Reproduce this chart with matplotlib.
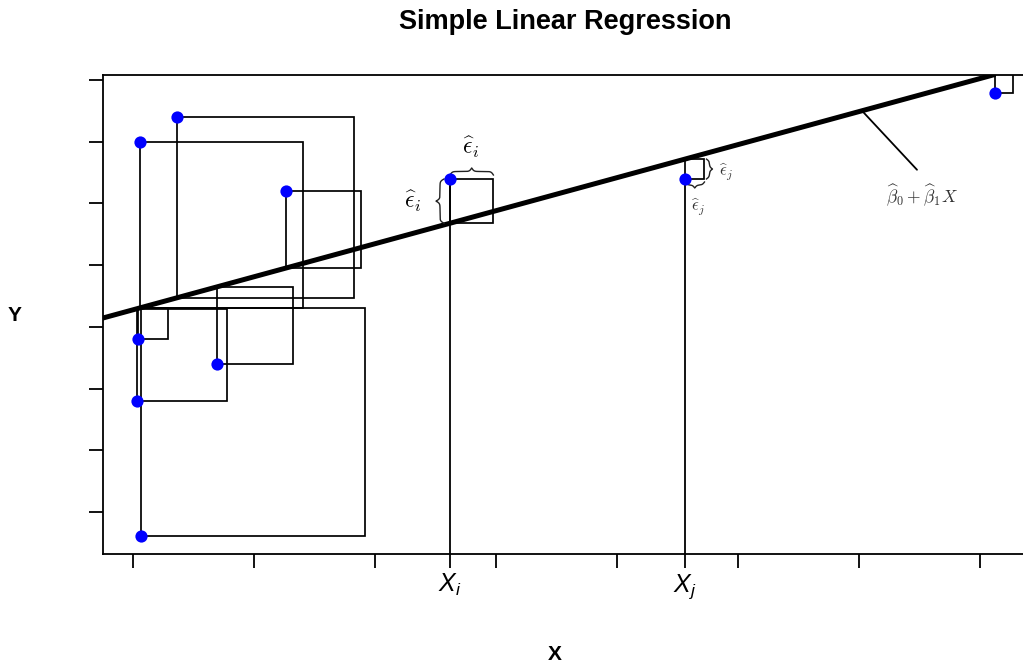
import numpy as np
import matplotlib
matplotlib.use('Agg')
import matplotlib.pyplot as plt
from matplotlib.patches import Rectangle
from matplotlib.transforms import IdentityTransform

# ---- data ----
x_pts = [1.066, 1.033, 1.041, 1.058, 1.364, 1.694, 2.264, 3.620, 5.562, 8.124]
y_pts = [0.611, 2.799, 3.803, 6.996, 7.401, 3.398, 6.202, 6.396, 6.396, 7.790]
b0, b1 = 3.741, 0.5353          # fitted line  y = b0 + b1 x
i_idx, j_idx = 7, 8              # points labelled X_i and X_j
x_ticks = [1, 2, 3, 4, 5, 6, 7, 8]
y_ticks = [1, 2, 3, 4, 5, 6, 7, 8]
xi_label, xj_label = r'$X_i$', r'$X_j$'
eps_i, eps_j = r'$\widehat{\epsilon}_i$', r'$\widehat{\epsilon}_j$'
line_label = r'$\widehat{\beta}_0+\widehat{\beta}_1X$'
title = 'Simple Linear Regression'

plt.rcParams['mathtext.fontset'] = 'custom'
plt.rcParams['mathtext.it'] = 'Liberation Sans:italic'
plt.rcParams['mathtext.rm'] = 'Liberation Sans'

W, H = 1023, 666
fig = plt.figure(figsize=(W / 100, H / 100), dpi=100)
ax = fig.add_axes([103 / W, 1 - 554 / H, (1028 - 103) / W, (554 - 75) / H])
ax.set_xlim(0.752, 8.397)
ax.set_ylim(0.3194, 8.081)

for s in ['left', 'bottom', 'top']:
    ax.spines[s].set_linewidth(1.3)
ax.spines['right'].set_visible(False)

xp = np.array(x_pts)
yp = np.array(y_pts)
yhat = b0 + b1 * xp
res = yp - yhat

# regression line
ax.axline((0, b0), slope=b1, color='black', lw=3.6, zorder=3)

# residual squares (near-square in screen space, as in the device aspect)
aspect = 0.98
o = ax.transData.transform((0, 0))
sx, sy = ax.transData.transform((1, 1)) - o
for xi, yi, yh, r in zip(xp, yp, yhat, res):
    side_x = aspect * abs(r) * sy / sx
    ax.add_patch(Rectangle((xi, min(yi, yh)), side_x, abs(r), fill=False,
                           ec='black', lw=1.25, zorder=2))

# vertical lines for X_i and X_j
ylo = ax.get_ylim()[0]
ax.vlines([xp[i_idx], xp[j_idx]], ylo, [yp[i_idx], yp[j_idx]], color='black',
          lw=1.3, zorder=2, clip_on=False)

ax.plot(xp, yp, 'o', color='#0000ff', ms=8.8, zorder=5, mec='none')

# ticks
ticks = x_ticks + [xp[i_idx], xp[j_idx]]
labels = [''] * len(x_ticks) + [xi_label, xj_label]
ax.set_xticks(ticks)
ax.set_xticklabels(labels, fontsize=18)
ax.set_yticks(y_ticks)
ax.set_yticklabels([''] * len(y_ticks))
ax.tick_params(axis='both', length=10, width=1.3, direction='out', pad=3)


def brace(p0, p1, sign, offset, width):
    P0 = ax.transData.transform(p0)
    P1 = ax.transData.transform(p1)
    d = P1 - P0
    L = np.hypot(*d)
    u = d / L
    n = np.array([-u[1], u[0]]) * sign
    beta = 0.9
    t = np.linspace(0, L / 2, 120)
    yh = 1 / (1 + np.exp(-beta * t)) + 1 / (1 + np.exp(-beta * (t - L / 2)))
    yv = np.concatenate([yh, yh[::-1]]) - 0.5
    s = np.concatenate([t, L - t[::-1]])
    pts = P0[None, :] + u[None, :] * s[:, None] + n[None, :] * (offset + width * yv)[:, None]
    ax.plot(pts[:, 0], pts[:, 1], transform=IdentityTransform(), color='#222222',
            lw=1.0, clip_on=False, zorder=4)


# braces around X_i residual
xi, yi, yhi = xp[i_idx], yp[i_idx], yhat[i_idx]
side_i = aspect * abs(res[i_idx]) * sy / sx
brace((xi, yi), (xi, yhi), -1, 6, 8)              # left of vertical side
brace((xi, yi), (xi + side_i, yi), 1, 4, 7)       # above top side
# braces around X_j residual
xj, yj, yhj = xp[j_idx], yp[j_idx], yhat[j_idx]
side_j = aspect * abs(res[j_idx]) * sy / sx
brace((xj + side_j, yj), (xj + side_j, yhj), -1, 2, 6)  # right of square
brace((xj, yj), (xj + side_j, yj), -1, 3, 6)            # below square

cm = dict(math_fontfamily='cm', ha='center', va='center', textcoords='offset pixels')
ax.annotate(eps_i, (xi, (yi + yhi) / 2), xytext=(-37, 0), fontsize=17, **cm)
ax.annotate(eps_i, (xi + side_i / 2, yi), xytext=(-1, 32), fontsize=17, **cm)
ax.annotate(eps_j, (xj + side_j, (yj + yhj) / 2), xytext=(22, -3), fontsize=12,
            color='#333333', **cm)
ax.annotate(eps_j, (xj + side_j / 2, yj), xytext=(3, -28), fontsize=12,
            color='#333333', **cm)

# pointer to the fitted line
xl = 7.025
ax.annotate('', (xl, b0 + b1 * xl), xytext=(55, -59), textcoords='offset pixels',
            arrowprops=dict(arrowstyle='-', lw=1.3, color='black', shrinkA=0, shrinkB=0))
ax.annotate(line_label, (xl, b0 + b1 * xl), xytext=(60, -84), fontsize=12.5,
            color='#333333', **cm)

for lab in ax.get_xticklabels():
    lab.set_math_fontfamily('custom')

fig.text(565.5 / W, 1 - 22 / H, title, ha='center', va='center', fontsize=19.5,
         fontweight='bold', family='Liberation Sans')
fig.text(15 / W, 1 - 315 / H, 'Y', ha='center', va='center', fontsize=15,
         fontweight='bold', family='Liberation Sans')
fig.text(555 / W, 1 - 655 / H, 'X', ha='center', va='center', fontsize=15,
         fontweight='bold', family='Liberation Sans')

fig.savefig('out.png', dpi=100)
